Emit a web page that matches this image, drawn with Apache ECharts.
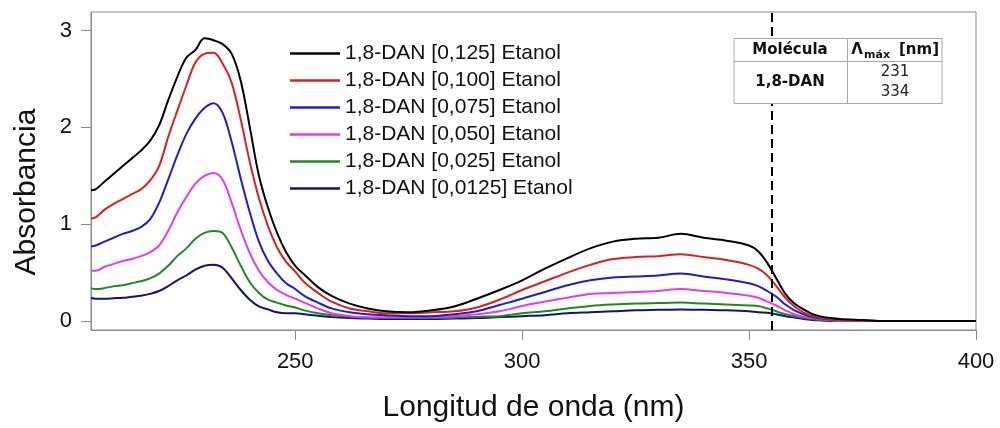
<!DOCTYPE html>
<html>
<head>
<meta charset="utf-8">
<script src="https://cdn.jsdelivr.net/npm/echarts@6/dist/echarts.min.js"></script>
<style>
  html, body { margin: 0; padding: 0; background: #fff; }
  #chart { width: 1000px; height: 428px; }
</style>
</head>
<body>
<div id="chart"></div>
<script>
// UV-Vis absorption spectra of 1,8-DAN in ethanol at several concentrations
const wavelengths = [205,206,208,210,212,214,216,218,220,222,224,226,228,230,232,234,236,238,240,242,244,246,248,250,252,255,258,262,266,270,275,280,285,290,295,300,305,310,315,320,325,330,335,340,345,350,352,354,356,358,360,362,364,366,368,370,375,380,390,400];

const abs_0125 = [1.35,1.36,1.44,1.52,1.60,1.68,1.76,1.86,2.02,2.28,2.52,2.72,2.80,2.92,2.90,2.86,2.76,2.48,2.00,1.50,1.17,0.91,0.71,0.57,0.48,0.35,0.26,0.18,0.13,0.10,0.09,0.11,0.15,0.23,0.32,0.42,0.54,0.65,0.75,0.82,0.85,0.86,0.90,0.86,0.83,0.78,0.72,0.60,0.44,0.28,0.18,0.12,0.07,0.045,0.03,0.02,0.01,0,0,0];
const abs_0100 = [1.06,1.07,1.15,1.21,1.26,1.31,1.36,1.45,1.60,1.90,2.17,2.43,2.67,2.76,2.77,2.66,2.46,2.08,1.64,1.27,0.98,0.76,0.61,0.51,0.40,0.29,0.20,0.13,0.10,0.08,0.08,0.09,0.10,0.14,0.22,0.32,0.41,0.50,0.58,0.64,0.66,0.67,0.69,0.66,0.63,0.58,0.54,0.47,0.36,0.24,0.15,0.09,0.05,0.03,0.02,0.01,0.005,0,0,0];
const abs_0075 = [0.77,0.78,0.82,0.86,0.90,0.93,0.97,1.05,1.22,1.46,1.71,1.93,2.09,2.20,2.25,2.15,1.85,1.47,1.12,0.82,0.62,0.49,0.39,0.33,0.26,0.19,0.13,0.09,0.07,0.06,0.05,0.05,0.07,0.10,0.165,0.23,0.30,0.37,0.42,0.45,0.46,0.47,0.49,0.46,0.43,0.39,0.36,0.31,0.25,0.17,0.11,0.07,0.04,0.025,0.015,0.01,0.005,0,0,0];
const abs_0050 = [0.52,0.52,0.56,0.59,0.62,0.64,0.67,0.71,0.78,0.93,1.12,1.28,1.42,1.50,1.53,1.46,1.22,0.94,0.70,0.52,0.40,0.32,0.27,0.23,0.19,0.13,0.08,0.05,0.04,0.04,0.04,0.04,0.05,0.07,0.10,0.155,0.20,0.24,0.28,0.29,0.30,0.31,0.33,0.31,0.29,0.26,0.24,0.20,0.16,0.11,0.07,0.045,0.03,0.02,0.01,0.005,0,0,0,0];
const abs_0025 = [0.34,0.33,0.34,0.36,0.37,0.39,0.41,0.44,0.49,0.57,0.67,0.75,0.85,0.91,0.93,0.91,0.76,0.57,0.40,0.29,0.22,0.19,0.16,0.14,0.11,0.08,0.06,0.045,0.035,0.03,0.03,0.03,0.035,0.045,0.05,0.08,0.10,0.13,0.155,0.17,0.18,0.185,0.19,0.18,0.17,0.16,0.155,0.13,0.10,0.07,0.05,0.03,0.02,0.01,0.005,0,0,0,0,0];
const abs_00125 = [0.24,0.23,0.23,0.235,0.24,0.25,0.26,0.28,0.31,0.36,0.42,0.47,0.53,0.57,0.58,0.55,0.44,0.32,0.22,0.15,0.12,0.09,0.08,0.08,0.07,0.055,0.04,0.03,0.025,0.02,0.02,0.02,0.025,0.03,0.04,0.05,0.06,0.08,0.09,0.10,0.11,0.115,0.12,0.115,0.11,0.10,0.09,0.085,0.07,0.05,0.035,0.02,0.01,0.005,0,0,0,0,0,0];

const seriesNames = [
  '1,8-DAN [0,125] Etanol',
  '1,8-DAN [0,100] Etanol',
  '1,8-DAN [0,075] Etanol',
  '1,8-DAN [0,050] Etanol',
  '1,8-DAN [0,025] Etanol',
  '1,8-DAN [0,0125] Etanol'
];
const seriesValues = [abs_0125, abs_0100, abs_0075, abs_0050, abs_0025, abs_00125];
const seriesColors = ['#000000', '#dc1f1f', '#1c1cd2', '#e63ce6', '#1f8a1f', '#14146e'];

const xTicks = [250, 300, 350, 400];
const yTicks = [0, 1, 2, 3];
const lambdaMarker = 355;

const tableHeader = ['Molécula', 'Λ', 'máx', '[nm]'];
const tableMolecule = '1,8-DAN';
const tableMaxima = ['231', '334'];

const FONT = '"Liberation Sans", Arial, sans-serif';
const TFONT = '"DejaVu Sans", Verdana, sans-serif';

const series = seriesNames.map((name, k) => ({
  name: name,
  type: 'line',
  data: wavelengths.map((w, i) => [w, seriesValues[k][i]]),
  symbol: 'none',
  smooth: 0.35,
  lineStyle: { color: seriesColors[k], width: 2 },
  itemStyle: { color: seriesColors[k] },
  z: 10 - k
}));

series[0].markLine = {
  silent: true,
  symbol: ['none', 'none'],
  label: { show: false },
  lineStyle: { color: '#000', type: [9, 5], width: 2 },
  data: [{ xAxis: lambdaMarker }],
  z: 20
};

const chart = echarts.init(document.getElementById('chart'), null, { renderer: 'canvas' });

chart.setOption({
  animation: false,
  backgroundColor: '#ffffff',
  grid: {
    left: 91, right: 24, top: 12, bottom: 98,
    show: true, borderColor: '#8a8a8a', borderWidth: 1, backgroundColor: 'transparent'
  },
  legend: {
    orient: 'vertical',
    left: 290,
    top: 43,
    padding: 0,
    icon: 'rect',
    itemWidth: 50,
    itemHeight: 2.5,
    itemGap: 6,
    textStyle: { fontFamily: FONT, fontSize: 21, color: '#111', lineHeight: 21 },
    data: seriesNames
  },
  xAxis: {
    type: 'value',
    min: 205,
    max: 400,
    name: 'Longitud de onda (nm)',
    nameLocation: 'middle',
    nameGap: 63,
    nameTextStyle: { fontFamily: FONT, fontSize: 30, color: '#111' },
    axisLine: { show: true, onZero: false, lineStyle: { color: '#8a8a8a', width: 1 } },
    axisTick: { show: true, inside: false, length: 10, lineStyle: { color: '#8a8a8a' }, customValues: xTicks },
    axisLabel: { fontFamily: FONT, fontSize: 22, color: '#111', margin: 21, customValues: xTicks },
    splitLine: { show: false }
  },
  yAxis: {
    type: 'value',
    min: -0.093,
    max: 3.192,
    axisLine: { show: true, onZero: false, lineStyle: { color: '#8a8a8a', width: 1 } },
    axisTick: { show: true, inside: false, length: 10, lineStyle: { color: '#8a8a8a' }, customValues: yTicks },
    axisLabel: { fontFamily: FONT, fontSize: 22, color: '#111', margin: 19, customValues: yTicks },
    splitLine: { show: false }
  },
  series: series,
  graphic: [
    {
      type: 'text',
      x: 27, y: 192,
      rotation: Math.PI / 2,
      style: { text: 'Absorbancia', fontFamily: FONT, fontSize: 30, fill: '#111', align: 'center', verticalAlign: 'middle' },
      z: 50
    },
    {
      type: 'group',
      z: 100,
      children: [
        { type: 'rect', shape: { x: 734, y: 38.5, width: 208, height: 65 },
          style: { fill: '#fff', stroke: '#a8a8a8', lineWidth: 1 }, z: 100 },
        { type: 'line', shape: { x1: 734, y1: 61.5, x2: 942, y2: 61.5 },
          style: { stroke: '#a8a8a8', lineWidth: 1 }, z: 101 },
        { type: 'line', shape: { x1: 847.5, y1: 38.5, x2: 847.5, y2: 103.5 },
          style: { stroke: '#a8a8a8', lineWidth: 1 }, z: 101 },
        { type: 'text', x: 790, y: 50.5, z: 102,
          style: { text: tableHeader[0], fontFamily: TFONT, fontSize: 15, fontWeight: 'bold', fill: '#111', align: 'center', verticalAlign: 'middle' } },
        { type: 'text', x: 857, y: 50.5, z: 102,
          style: { text: tableHeader[1], fontFamily: TFONT, fontSize: 15, fontWeight: 'bold', fill: '#111', align: 'center', verticalAlign: 'middle' } },
        { type: 'text', x: 864, y: 55, z: 102,
          style: { text: tableHeader[2], fontFamily: TFONT, fontSize: 11, fontWeight: 'bold', fill: '#111', align: 'left', verticalAlign: 'middle' } },
        { type: 'text', x: 919, y: 50.5, z: 102,
          style: { text: tableHeader[3], fontFamily: TFONT, fontSize: 15, fontWeight: 'bold', fill: '#111', align: 'center', verticalAlign: 'middle' } },
        { type: 'text', x: 790, y: 82.5, z: 102,
          style: { text: tableMolecule, fontFamily: TFONT, fontSize: 15, fontWeight: 'bold', fill: '#111', align: 'center', verticalAlign: 'middle' } },
        { type: 'text', x: 895, y: 72, z: 102,
          style: { text: tableMaxima[0], fontFamily: TFONT, fontSize: 15, fill: '#222', align: 'center', verticalAlign: 'middle' } },
        { type: 'text', x: 895, y: 92, z: 102,
          style: { text: tableMaxima[1], fontFamily: TFONT, fontSize: 15, fill: '#222', align: 'center', verticalAlign: 'middle' } }
      ]
    }
  ]
});
</script>
</body>
</html>
